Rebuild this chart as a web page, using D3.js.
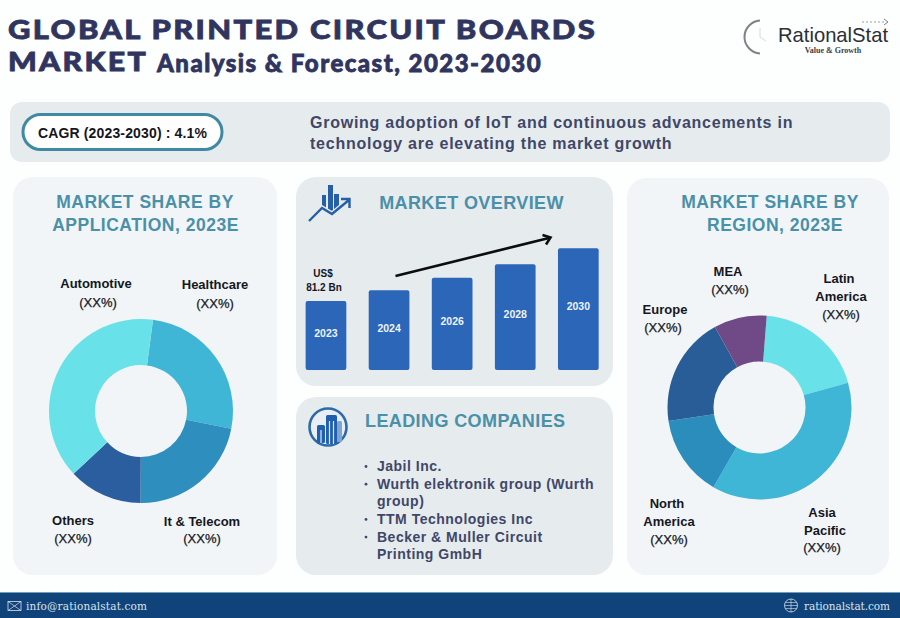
<!DOCTYPE html>
<html>
<head>
<meta charset="utf-8">
<script src="https://d3js.org/d3.v7.min.js"></script>
<style>
html, body { margin: 0; padding: 0; background: #fdfefe; }
svg { display: block; }
text { font-family: "Liberation Sans", Arial, sans-serif; }
</style>
</head>
<body>
<script>
// data
var appNames = ['Healthcare', 'It & Telecom', 'Others', 'Automotive'];
var appShares = [26, 22, 13, 39];
var appColors = ['#3fb6d6', '#2e8ebd', '#2a5e9e', '#68e2e8'];

var regionNames = ['Latin America', 'Asia Pacific', 'North America', 'Europe', 'MEA'];
var regionShares = [19.4, 37.7, 14.3, 19.3, 9.3];
var regionColors = ['#68e2e8', '#3fb6d6', '#2b8dbb', '#285d98', '#704a87'];

var years = ['2023', '2024', '2026', '2028', '2030'];
var marketValues = [81.2, 93.8, 108.6, 124.4, 143.2];

var companies = ['Jabil Inc.', 'Wurth elektronik group (Wurth', 'group)', 'TTM Technologies Inc',
    'Becker & Muller Circuit', 'Printing GmbH'];
var bulletRows = [0, 1, 3, 4];

var W = 900, H = 618;
var ink = '#30355f', slate = '#3f4768', teal = '#4a90a9', black = '#15171f';

var svg = d3.select('body').append('svg')
    .attr('width', W)
    .attr('height', H);

svg.append('rect').attr('width', W).attr('height', H).attr('fill', '#fdfefe');

function panel(x, y, w, h, fill, r) {
    svg.append('rect')
	.attr('x', x).attr('y', y).attr('width', w).attr('height', h)
	.attr('rx', r).attr('fill', fill);
}

function label(x, y, str, size, color, opts) {
    opts = opts || {};
    return svg.append('text')
	.attr('x', x).attr('y', y)
	.attr('text-anchor', opts.anchor || 'middle')
	.attr('dominant-baseline', 'central')
	.attr('font-size', size)
	.attr('font-weight', opts.weight || 'bold')
	.attr('letter-spacing', opts.spacing || 0)
	.attr('fill', color)
	.text(str);
}

panel(10, 102, 880, 60, '#e6ebee', 12);
panel(13, 177, 264, 398, '#f1f5f7', 20);
panel(627, 178, 262, 397, '#f1f5f7', 20);
panel(296, 177, 317, 209, '#e6ebee', 20);
panel(296, 397, 317, 178, '#e6ebee', 20);

// title, stretched to the wide letters of the source
function titleText(x, y, str, size, spacing, len) {
    var t = label(x, y, str, size, ink, {anchor: 'start', weight: 900, spacing: spacing})
	.style('font-family', 'Lato')
	.attr('stroke', ink)
	.attr('stroke-width', 0.8);
    if (len) t.attr('textLength', len).attr('lengthAdjust', 'spacingAndGlyphs');
}
titleText(8, 28, 'GLOBAL PRINTED CIRCUIT BOARDS', 27, 2, 589);
titleText(8, 60.5, 'MARKET', 27, 2, 140);
titleText(157, 62, 'Analysis & Forecast, 2023-2030', 24, 1.47);

// logo
svg.append('path')
    .attr('d', d3.arc()({innerRadius: 15.5, outerRadius: 17.5, startAngle: Math.PI * 1.02, endAngle: Math.PI * 1.98}))
    .attr('transform', 'translate(761,37)')
    .attr('fill', '#7c8488');
svg.append('path')
    .attr('d', 'M760 28V37L766 41')
    .attr('fill', 'none').attr('stroke', '#d5dadc').attr('stroke-width', 1);
svg.append('path')
    .attr('d', 'M862 22H885')
    .attr('fill', 'none').attr('stroke', '#9aa2a6').attr('stroke-width', 1).attr('stroke-dasharray', '2 2');
svg.append('path')
    .attr('d', 'M884 19L888 22L884 25')
    .attr('fill', 'none').attr('stroke', '#7c8488').attr('stroke-width', 1);
label(778, 34, 'RationalStat', 21, '#2b2f36', {anchor: 'start', weight: 'normal'})
    .attr('textLength', 110).attr('lengthAdjust', 'spacingAndGlyphs');
label(833, 50.5, 'Value & Growth', 8, '#3c4048')
    .style('font-family', 'Liberation Serif');

// cagr strip
svg.append('rect')
    .attr('x', 23).attr('y', 114.5).attr('width', 199).attr('height', 35).attr('rx', 17.5)
    .attr('fill', '#fff').attr('stroke', '#3f8aa1').attr('stroke-width', 3);
label(122.5, 133, 'CAGR (2023-2030) : 4.1%', 14, '#14161c', {spacing: 0.15});
label(310, 122, 'Growing adoption of IoT and continuous advancements in', 16, slate, {anchor: 'start', spacing: 0.75});
label(310, 143.5, 'technology are elevating the market growth', 16, slate, {anchor: 'start', spacing: 0.75});

// donuts
function donut(cx, cy, names, shares, colors, startDeg) {
    var start = startDeg * Math.PI / 180;
    var pie = d3.pie().sort(null).startAngle(start).endAngle(start + 2 * Math.PI);
    var arc = d3.arc().innerRadius(46).outerRadius(92);
    svg.append('g')
	.attr('transform', 'translate(' + cx + ',' + cy + ')')
	.selectAll('path')
	.data(pie(shares))
	.enter()
	.append('path')
	.attr('d', arc)
	.attr('fill', function (d, i) { return colors[i]; })
	.append('title')
	.text(function (d, i) { return names[i]; });
}

donut(141, 411, appNames, appShares, appColors, 7.5);
donut(759.5, 407.5, regionNames, regionShares, regionColors, 4.5);

function heading(x, y, str) {
    label(x, y, str, 17.5, teal, {spacing: 0.5});
}
heading(145, 202, 'MARKET SHARE BY');
heading(145.5, 225, 'APPLICATION, 2023E');
heading(770, 202, 'MARKET SHARE BY');
heading(775, 225, 'REGION, 2023E');

// donut captions, hand placed as in the source
var captions = [
    [96, 283.5, 'Automotive', 1], [98, 302, '(XX%)', 0],
    [215, 284, 'Healthcare', 1], [215, 303, '(XX%)', 0],
    [73, 520, 'Others', 1], [73, 538, '(XX%)', 0],
    [202, 521, 'It & Telecom', 1], [202, 538.5, '(XX%)', 0],
    [728, 271, 'MEA', 1], [730, 289, '(XX%)', 0],
    [839, 278, 'Latin', 1], [841, 296, 'America', 1], [841, 314, '(XX%)', 0],
    [665, 309, 'Europe', 1], [663, 327, '(XX%)', 0],
    [667, 503, 'North', 1], [669, 521, 'America', 1], [669, 539, '(XX%)', 0],
    [822, 512, 'Asia', 1], [825, 530, 'Pacific', 1], [822, 547, '(XX%)', 0]
];
captions.forEach(function (c) {
    var t = label(c[0], c[1], c[2], 13, black, {weight: c[3] ? 'bold' : 'normal'});
    if (!c[3]) t.attr('stroke', black).attr('stroke-width', 0.25);
});

// market overview
label(471.5, 203, 'MARKET OVERVIEW', 18, teal, {spacing: 0.4});

var x = d3.scaleBand()
    .domain(years)
    .range([294.9, 609.4])
    .paddingInner(0.355)
    .paddingOuter(0.17);
var y = d3.scaleLinear()
    .domain([0, 81.2])
    .range([370, 301]);

svg.selectAll('rect.bar')
    .data(marketValues)
    .enter()
    .append('rect')
    .classed('bar', true)
    .attr('x', function (_, i) { return x(years[i]); })
    .attr('y', function (d) { return y(d); })
    .attr('width', x.bandwidth())
    .attr('height', function (d) { return y(0) - y(d); })
    .attr('rx', 2)
    .attr('fill', '#2b66b8');

svg.selectAll('text.year')
    .data(marketValues)
    .enter()
    .append('text')
    .classed('year', true)
    .attr('x', function (_, i) { return x(years[i]) + x.bandwidth() / 2; })
    .attr('y', function (d) { return y(d) + (y(0) - y(d)) * 0.47; })
    .attr('text-anchor', 'middle')
    .attr('dominant-baseline', 'central')
    .attr('font-size', 10.5)
    .attr('font-weight', 'bold')
    .attr('fill', '#eef3fa')
    .text(function (_, i) { return years[i]; });

label(323, 273, 'US$', 10, black);
label(324, 287, '81.2 Bn', 10, black);

// growth arrow
svg.append('path')
    .attr('d', 'M395.5 276L549 238')
    .attr('fill', 'none').attr('stroke', '#0c0d12').attr('stroke-width', 2.6);
svg.append('path')
    .attr('d', 'M542.5 235L550.5 237.5L546 244.5')
    .attr('fill', 'none').attr('stroke', '#0c0d12').attr('stroke-width', 2.6);

// chart icon
var iconBars = [[322, 195, 4, 14], [328, 185, 5, 26], [334, 194, 5, 16]];
iconBars.forEach(function (b) {
    svg.append('rect').attr('x', b[0]).attr('y', b[1]).attr('width', b[2]).attr('height', b[3])
	.attr('fill', '#265fa8');
});
svg.append('path')
    .attr('d', 'M309 221L322 208L332 214L349 200')
    .attr('fill', 'none').attr('stroke', '#e6ebee').attr('stroke-width', 5);
svg.append('path')
    .attr('d', 'M309 221L322 208L332 214L349 200M341 199H349.5V208')
    .attr('fill', 'none').attr('stroke', '#265fa8').attr('stroke-width', 2.4);

// leading companies
label(365, 421, 'LEADING COMPANIES', 18, teal, {anchor: 'start', spacing: 0.4});

svg.append('circle').attr('cx', 328).attr('cy', 427).attr('r', 18.5)
    .attr('fill', '#e8eef4').attr('stroke', '#2d6aa8').attr('stroke-width', 2.6);
var iconTowers = [[317, 425, 8, 18], [326, 415, 11, 29], [337, 421, 5, 21]];
iconTowers.forEach(function (b, i) {
    svg.append('rect').attr('x', b[0]).attr('y', b[1]).attr('width', b[2]).attr('height', b[3])
	.attr('rx', 1.5).attr('fill', i == 2 ? '#7fa6cf' : '#1f5fae');
});
svg.append('path').attr('d', 'M321 430V443M329.5 421V444M333.5 421V444')
    .attr('fill', 'none').attr('stroke', '#dfe8f1').attr('stroke-width', 1.2);

companies.forEach(function (c, i) {
    label(377, 466 + i * 17.65, c, 14, slate, {anchor: 'start', spacing: 0.5});
});
bulletRows.forEach(function (i) {
    svg.append('circle').attr('cx', 366).attr('cy', 466.5 + i * 17.65).attr('r', 1.4).attr('fill', slate);
});

// footer
svg.append('rect').attr('x', 0).attr('y', 592).attr('width', W).attr('height', 26).attr('fill', '#0f4379');
svg.append('rect').attr('x', 0).attr('y', 592).attr('width', W).attr('height', 1).attr('fill', '#6f9fb8');

var footText = '#dbe3ec';
label(26, 606, 'info@rationalstat.com', 10.5, footText, {anchor: 'start', weight: 'normal'})
    .style('font-family', 'DejaVu Serif')
    .attr('textLength', 121);
label(804, 606, 'rationalstat.com', 10.5, footText, {anchor: 'start', weight: 'normal'})
    .style('font-family', 'DejaVu Serif')
    .attr('textLength', 86);

svg.append('rect').attr('x', 8).attr('y', 601.5).attr('width', 13).attr('height', 9)
    .attr('fill', 'none').attr('stroke', footText).attr('stroke-width', 0.8);
svg.append('path').attr('d', 'M8 601.5L21 610.5M21 601.5L8 610.5')
    .attr('fill', 'none').attr('stroke', footText).attr('stroke-width', 0.7);

svg.append('circle').attr('cx', 791).attr('cy', 605.5).attr('r', 6.5)
    .attr('fill', 'none').attr('stroke', footText).attr('stroke-width', 0.8);
svg.append('path').attr('d', 'M784.5 605.5H797.5M791 599V612M785.5 602.5H796.5M785.5 608.5H796.5')
    .attr('fill', 'none').attr('stroke', footText).attr('stroke-width', 0.6);
</script>
</body>
</html>
